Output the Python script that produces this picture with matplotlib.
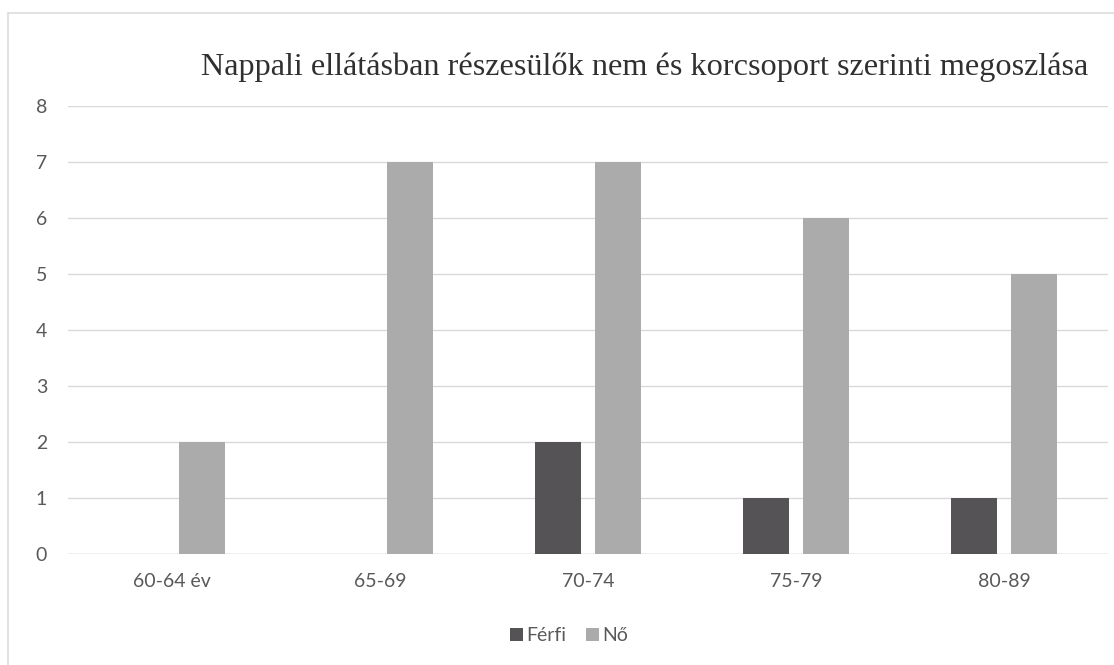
import matplotlib
matplotlib.use('Agg')
import matplotlib.pyplot as plt
import numpy as np
from matplotlib.patches import Rectangle

# adatok
kategoriak = ['60-64 év', '65-69', '70-74', '75-79', '80-89']
ferfi = [0, 0, 2, 1, 1]
no = [2, 7, 7, 6, 5]
cimsor = 'Nappali ellátásban részesülők nem és korcsoport szerinti megoszlása'

plt.rcParams['font.family'] = ['Lato', 'DejaVu Sans']

fig = plt.figure(figsize=(11.14, 6.65), dpi=100)
ax = fig.add_axes([0.061, 0.167, 0.9336, 0.6736])

x = np.arange(len(kategoriak))
w = 0.221
ax.bar(x - 0.145, ferfi, w, color='#555355', label='Férfi', zorder=3)
ax.bar(x + 0.145, no, w, color='#ababab', label='Nő', zorder=3)

ax.set_xlim(-0.5, len(kategoriak) - 0.5)
ax.set_ylim(0, 8)
ax.set_yticks(range(0, 9))
ax.set_xticks(x)
ax.set_xticklabels(kategoriak)
ax.tick_params(axis='both', length=0, labelsize=14, colors='#595959')
ax.tick_params(axis='y', pad=15)
ax.tick_params(axis='x', pad=14)
ax.grid(axis='y', color='#d9d9d9', linewidth=1, zorder=0)
for s in ax.spines.values():
    s.set_visible(False)
ax.axhline(0, color='#d0d0d0', linewidth=1, zorder=2)

fig.text(0.579, 0.887, cimsor, ha='center', va='baseline', fontsize=23.2,
         family=['Liberation Serif', 'DejaVu Serif'], color='#303030')

ax.legend(loc='upper center', bbox_to_anchor=(0.482, -0.125), ncol=2, frameon=False,
          fontsize=14, labelcolor='#595959', handlelength=0.65, handleheight=0.65,
          columnspacing=1.0, handletextpad=0.2)

# keret
fig.patches.append(Rectangle((0.007, -0.02), 1.0, 1.0, transform=fig.transFigure,
                             fill=False, edgecolor='#dddddd', linewidth=1.2))

fig.savefig('out.png', dpi=100, facecolor='white')
